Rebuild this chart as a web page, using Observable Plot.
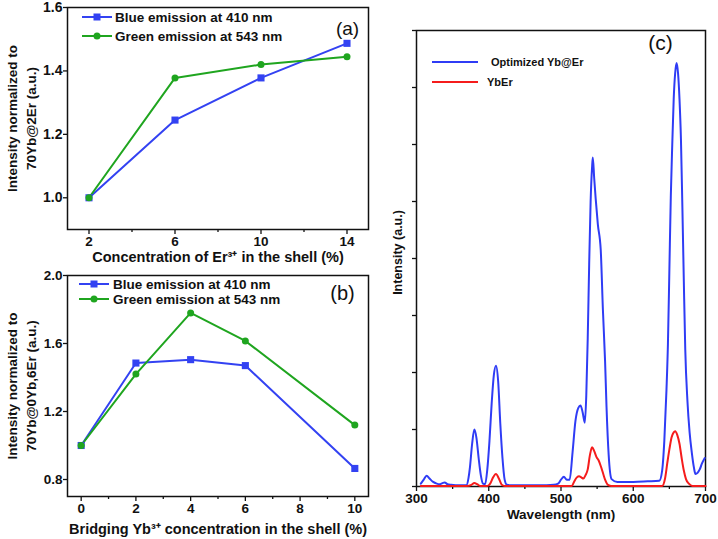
<!DOCTYPE html>
<html>
<head>
<meta charset="utf-8">
<script src="https://cdn.jsdelivr.net/npm/d3@7"></script>
<script src="https://cdn.jsdelivr.net/npm/@observablehq/plot@0.6"></script>
<style>
  html, body { margin: 0; padding: 0; background: #fff; }
  #wrap { position: relative; width: 718px; height: 539px; overflow: hidden; background: #fff; }
  #wrap svg { position: absolute; overflow: visible; }
</style>
</head>
<body>
<div id="wrap"></div>
<script>
// ---------- Data ----------
// Panel (a): Er3+ concentration in shell
const erConc = [2, 6, 10, 14];
const aBlue = [1.0, 1.245, 1.378, 1.487];
const aGreen = [1.0, 1.378, 1.42, 1.445];
const aXTicks = [2, 6, 10, 14];
const aXMinor = [4, 8, 12];
const aYTicks = [1.0, 1.2, 1.4, 1.6];

// Panel (b): bridging Yb3+ concentration
const ybConc = [0, 2, 4, 6, 10];
const bBlue = [1.0, 1.485, 1.505, 1.47, 0.865];
const bGreen = [1.0, 1.42, 1.78, 1.615, 1.12];
const bXTicks = [0, 2, 4, 6, 8, 10];
const bXMinor = [1, 3, 5, 7, 9];
const bYTicks = [0.8, 1.2, 1.6, 2.0];

// Panel (c): spectra (wavelength nm, intensity a.u.)
const optWave = [306, 310, 314, 318, 323, 328, 332, 336, 339, 343, 348, 360, 369, 372, 374, 377, 380, 383, 386, 389, 392, 395, 398, 401, 404, 407, 410, 413, 416, 419, 422, 425, 430, 450, 470, 490, 496, 500, 504, 508, 512, 516, 520, 524, 527, 530, 533, 535, 537, 539, 541, 543, 544, 546, 548, 551, 555, 558, 561, 563, 566, 570, 578, 600, 620, 636, 640, 643, 646, 648, 650, 652, 654, 656, 658, 660, 662, 664, 666, 668, 670, 672, 675, 678, 681, 684, 686, 689, 692, 695, 699];
const optInt = [0.05, 0.12, 0.19, 0.14, 0.08, 0.05, 0.04, 0.06, 0.07, 0.04, 0.03, 0.02, 0.02, 0.15, 0.34, 0.75, 1.0, 0.85, 0.5, 0.2, 0.05, 0.04, 0.3, 0.8, 1.45, 1.95, 2.12, 1.85, 1.1, 0.5, 0.12, 0.03, 0.02, 0.02, 0.02, 0.03, 0.05, 0.12, 0.17, 0.12, 0.12, 0.6, 1.15, 1.38, 1.42, 1.3, 1.12, 1.6, 2.6, 3.9, 5.0, 5.6, 5.77, 5.4, 5.05, 4.6, 4.15, 3.1, 2.2, 1.4, 0.55, 0.13, 0.08, 0.08, 0.09, 0.1, 0.28, 0.8, 1.7, 2.5, 3.8, 5.1, 6.0, 6.8, 7.25, 7.43, 7.25, 6.8, 6.1, 4.9, 3.6, 2.4, 1.5, 0.95, 0.6, 0.33, 0.22, 0.24, 0.3, 0.4, 0.5];
const refWave = [306, 370, 376, 380, 384, 388, 398, 402, 406, 410, 414, 418, 422, 515, 518, 522, 525, 528, 531, 534, 537, 540, 543, 546, 549, 552, 555, 558, 561, 565, 570, 640, 644, 647, 650, 653, 656, 658, 661, 664, 667, 670, 673, 677, 682, 700];
const refInt = [0.01, 0.01, 0.03, 0.06, 0.04, 0.01, 0.01, 0.05, 0.16, 0.22, 0.14, 0.03, 0.01, 0.01, 0.08, 0.16, 0.18, 0.16, 0.14, 0.2, 0.3, 0.55, 0.69, 0.62, 0.52, 0.46, 0.36, 0.24, 0.12, 0.03, 0.01, 0.01, 0.14, 0.4, 0.65, 0.86, 0.95, 0.97, 0.9, 0.75, 0.5, 0.28, 0.13, 0.05, 0.01, 0.01];
const cXTicks = [300, 400, 500, 600, 700];
const cXMinor = [350, 450, 550, 650];
const cYTicks = [0, 1, 2, 3, 4, 5, 6, 7, 8];

// Labels
const seriesNames = ["Blue emission at 410 nm", "Green emission at 543 nm"];
const specNames = ["Optimized Yb@Er", "YbEr"];

// ---------- Style ----------
const BLUE = "#3342f2";
const GREEN = "#1fa51f";
const RED = "#f51c1c";
const SPEC_BLUE = "#2f3cf5";
const FONT = "'Liberation Sans', Arial, sans-serif";

const wrap = document.getElementById("wrap");

function tableOf(xs, ys) { return xs.map((x, i) => ({x, y: ys[i]})); }

function label(str, o) {
  return Plot.text([str], {text: d => d, textAnchor: "middle", lineAnchor: "middle", fontWeight: "bold", ...o});
}

function addLegend(svg, items, opts) {
  const g = d3.select(svg).append("g").attr("font-family", FONT).attr("font-weight", "bold")
    .attr("font-size", opts.fontSize).attr("text-anchor", "start");
  items.forEach((it, i) => {
    const y = opts.y0 + i * opts.dy;
    g.append("line").attr("x1", opts.x1).attr("x2", opts.x2).attr("y1", y).attr("y2", y)
      .attr("stroke", it.color).attr("stroke-width", opts.sw);
    const mx = (opts.x1 + opts.x2) / 2;
    if (it.symbol === "square") {
      g.append("rect").attr("x", mx - 3.5).attr("y", y - 3.5).attr("width", 7).attr("height", 7).attr("fill", it.color);
    } else if (it.symbol === "circle") {
      g.append("circle").attr("cx", mx).attr("cy", y).attr("r", 3.5).attr("fill", it.color);
    }
    g.append("text").attr("x", it.tx ?? opts.tx).attr("y", y).attr("dy", "0.36em")
      .attr("text-anchor", "start").attr("fill", "#111").text(it.label);
  });
}

function place(svg, left, top) {
  svg.style.left = left + "px";
  svg.style.top = top + "px";
  wrap.appendChild(svg);
}

// ---------- Panel (a) ----------
{
  const blue = tableOf(erConc, aBlue);
  const green = tableOf(erConc, aGreen);
  const svg = Plot.plot({
    width: 370, height: 265,
    marginLeft: 67, marginRight: 2, marginTop: 7, marginBottom: 36,
    style: {fontFamily: FONT, fontWeight: "bold", fontSize: "13.5px", color: "#111", background: "transparent"},
    x: {domain: [1, 15]},
    y: {domain: [0.9, 1.6]},
    marks: [
      Plot.axisX({ticks: aXTicks, tickSize: 5, tickPadding: 2, label: null, strokeWidth: 1.3}),
      Plot.axisX({ticks: aXMinor, tickSize: 3, tickFormat: () => "", label: null, strokeWidth: 1.3}),
      Plot.axisY({ticks: aYTicks, tickSize: 4, tickPadding: 1, tickFormat: d3.format(".1f"), label: null, strokeWidth: 1.3, fontSize: 14}),
      Plot.frame({stroke: "#111", strokeWidth: 1.5}),
      Plot.line(blue, {x: "x", y: "y", stroke: BLUE, strokeWidth: 2}),
      Plot.line(green, {x: "x", y: "y", stroke: GREEN, strokeWidth: 2}),
      Plot.dot(blue, {x: "x", y: "y", symbol: "square", r: 4, fill: BLUE}),
      Plot.dot(green, {x: "x", y: "y", r: 3.5, fill: GREEN}),
      label("Concentration of Er³⁺ in the shell (%)", {frameAnchor: "bottom", dy: 28, fontSize: 14.5}),
      label("Intensity normalized to", {frameAnchor: "left", dx: -55, rotate: -90, fontSize: 13.5}),
      label("70Yb@2Er (a.u.)", {frameAnchor: "left", dx: -36, rotate: -90, fontSize: 13.5}),
      label("(a)", {frameAnchor: "top-right", dx: -21, dy: 21, fontSize: 19, fontWeight: "normal"})
    ]
  });
  addLegend(svg, [
    {label: seriesNames[0], color: BLUE, symbol: "square"},
    {label: seriesNames[1], color: GREEN, symbol: "circle"}
  ], {x1: 82, x2: 112, tx: 115, y0: 17, dy: 19, sw: 2, fontSize: 13.5});
  place(svg, 0, 0);
}

// ---------- Panel (b) ----------
{
  const blue = tableOf(ybConc, bBlue);
  const green = tableOf(ybConc, bGreen);
  const svg = Plot.plot({
    width: 370, height: 271,
    marginLeft: 67, marginRight: 2, marginTop: 7, marginBottom: 43,
    style: {fontFamily: FONT, fontWeight: "bold", fontSize: "13.5px", color: "#111", background: "transparent"},
    x: {domain: [-0.5, 10.5]},
    y: {domain: [0.7, 2.0]},
    marks: [
      Plot.axisX({ticks: bXTicks, tickSize: 5, tickPadding: 2, label: null, strokeWidth: 1.3}),
      Plot.axisX({ticks: bXMinor, tickSize: 3, tickFormat: () => "", label: null, strokeWidth: 1.3}),
      Plot.axisY({ticks: bYTicks, tickSize: 4, tickPadding: 1, tickFormat: d3.format(".1f"), label: null, strokeWidth: 1.3}),
      Plot.frame({stroke: "#111", strokeWidth: 1.5}),
      Plot.line(blue, {x: "x", y: "y", stroke: BLUE, strokeWidth: 2}),
      Plot.line(green, {x: "x", y: "y", stroke: GREEN, strokeWidth: 2}),
      Plot.dot(blue, {x: "x", y: "y", symbol: "square", r: 4, fill: BLUE}),
      Plot.dot(green, {x: "x", y: "y", r: 3.5, fill: GREEN}),
      label("Bridging Yb³⁺ concentration in the shell (%)", {frameAnchor: "bottom", dy: 33, fontSize: 14.5}),
      label("Intensity normalized to", {frameAnchor: "left", dx: -55, rotate: -90, fontSize: 13.5}),
      label("70Yb@0Yb,6Er (a.u.)", {frameAnchor: "left", dx: -36, rotate: -90, fontSize: 13.5}),
      label("(b)", {frameAnchor: "top-right", dx: -26, dy: 18, fontSize: 20, fontWeight: "normal"})
    ]
  });
  addLegend(svg, [
    {label: seriesNames[0], color: BLUE, symbol: "square"},
    {label: seriesNames[1], color: GREEN, symbol: "circle"}
  ], {x1: 79, x2: 109, tx: 113, y0: 16, dy: 15, sw: 2, fontSize: 13.5});
  place(svg, 0, 268);
}

// ---------- Panel (c) ----------
{
  const opt = tableOf(optWave, optInt);
  const ref = tableOf(refWave, refInt);
  const svg = Plot.plot({
    width: 338, height: 539,
    marginLeft: 36, marginRight: 13, marginTop: 30, marginBottom: 53,
    style: {fontFamily: FONT, fontWeight: "bold", fontSize: "13.5px", color: "#111", background: "transparent"},
    x: {domain: [300, 700]},
    y: {domain: [0, 8]},
    marks: [
      Plot.axisX({ticks: cXTicks, tickSize: 5, tickPadding: 2, label: null, strokeWidth: 1.3}),
      Plot.axisX({ticks: cXMinor, tickSize: 3, tickFormat: () => "", label: null, strokeWidth: 1.3}),
      Plot.axisY({ticks: cYTicks, tickSize: 4, tickFormat: () => "", label: null, strokeWidth: 1.3}),
      Plot.frame({stroke: "#111", strokeWidth: 1.5}),
      Plot.line(opt, {x: "x", y: "y", stroke: SPEC_BLUE, strokeWidth: 2, curve: "monotone-x"}),
      Plot.line(ref, {x: "x", y: "y", stroke: RED, strokeWidth: 2, curve: "monotone-x"}),
      label("Wavelength (nm)", {frameAnchor: "bottom", dy: 28, fontSize: 13.5}),
      label("Intensity (a.u.)", {frameAnchor: "left", dx: -19, dy: -6, rotate: -90, fontSize: 12.5}),
      label("(c)", {frameAnchor: "top-right", dx: -45, dy: 13, fontSize: 21, fontWeight: "normal"})
    ]
  });
  addLegend(svg, [
    {label: specNames[0], color: SPEC_BLUE, tx: 111},
    {label: specNames[1], color: RED, tx: 107}
  ], {x1: 52, x2: 98, y0: 62, dy: 20, sw: 2, fontSize: 11});
  place(svg, 380, 0);
}
</script>
</body>
</html>
